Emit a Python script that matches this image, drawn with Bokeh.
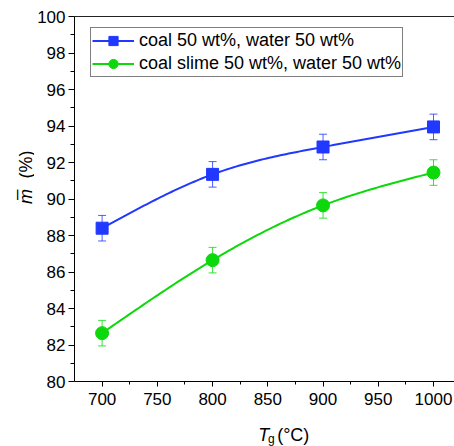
import numpy as np
from bokeh.plotting import figure
from bokeh.layouts import row, column
from bokeh.models import (Legend, LegendItem, LinearAxis, Whisker, TeeHead,
                          ColumnDataSource, FixedTicker, Range1d)
from bokeh.core.properties import value
from bokeh.embed import file_html
from bokeh.resources import INLINE

# ---- data ----
temps = [700, 800, 900, 1000]
coal = [88.4, 91.35, 92.85, 93.95]
coal_err = [0.7, 0.7, 0.7, 0.7]
slime = [82.65, 86.65, 89.65, 91.45]
slime_err = [0.7, 0.7, 0.7, 0.7]
x_ticks = [700, 750, 800, 850, 900, 950, 1000]
x_minor = [725, 775, 825, 875, 925, 975]
y_ticks = [80, 82, 84, 86, 88, 90, 92, 94, 96, 98, 100]
y_minor = [81, 83, 85, 87, 89, 91, 93, 95, 97, 99]
coal_label = "coal 50 wt%, water 50 wt%"
slime_label = "coal slime 50 wt%, water 50 wt%"

BLUE = "#2138ff"
GREEN = "#0cd80c"
FONT = "Liberation Sans"
W, H = 454, 446
LW = 34      # width of the strip holding the y-axis title
BH = 26      # height of the strip holding the x-axis title


def natural_spline(xs, ys, n=120):
    xs = np.asarray(xs, float)
    ys = np.asarray(ys, float)
    k = len(xs)
    h = np.diff(xs)
    A = np.zeros((k, k))
    r = np.zeros(k)
    A[0, 0] = A[-1, -1] = 1
    for i in range(1, k - 1):
        A[i, i - 1] = h[i - 1]
        A[i, i] = 2 * (h[i - 1] + h[i])
        A[i, i + 1] = h[i]
        r[i] = 6 * ((ys[i + 1] - ys[i]) / h[i] - (ys[i] - ys[i - 1]) / h[i - 1])
    M = np.linalg.solve(A, r)
    xx = np.linspace(xs[0], xs[-1], n)
    yy = np.empty_like(xx)
    for j, x in enumerate(xx):
        i = min(np.searchsorted(xs, x, side="right") - 1, k - 2)
        t1 = xs[i + 1] - x
        t0 = x - xs[i]
        yy[j] = (M[i] * t1 ** 3 / (6 * h[i]) + M[i + 1] * t0 ** 3 / (6 * h[i])
                 + (ys[i] / h[i] - M[i] * h[i] / 6) * t1
                 + (ys[i + 1] / h[i] - M[i + 1] * h[i] / 6) * t0)
    return xx, yy


def blank(width, height, xr, yr):
    f = figure(width=width, height=height, x_range=xr, y_range=yr,
               output_backend="svg", toolbar_location=None,
               min_border=0, x_axis_type=None, y_axis_type=None)
    f.outline_line_color = None
    f.xgrid.visible = False
    f.ygrid.visible = False
    f.border_fill_color = "white"
    f.background_fill_color = "white"
    return f


# ---- main plot ----
p = figure(width=W - LW, height=H - BH, x_range=Range1d(675, 1019), y_range=Range1d(80, 100),
           output_backend="svg", toolbar_location=None,
           min_border_left=72 - LW, min_border_right=0, min_border_top=16,
           min_border_bottom=(H - BH) - 381)
p.outline_line_color = None
p.xgrid.visible = False
p.ygrid.visible = False
p.background_fill_color = "white"
p.border_fill_color = "white"

for ax in (p.xaxis[0], p.yaxis[0]):
    ax.axis_line_color = "black"
    ax.major_tick_line_color = "black"
    ax.minor_tick_line_color = "black"
    ax.major_tick_in = 0
    ax.minor_tick_in = 0
    ax.major_label_text_font = FONT
    ax.major_label_text_font_size = "17px"
    ax.major_label_text_color = "black"

p.xaxis.ticker = FixedTicker(ticks=x_ticks, minor_ticks=x_minor)
p.yaxis.ticker = FixedTicker(ticks=y_ticks, minor_ticks=y_minor)
p.xaxis.major_tick_out = 5
p.xaxis.minor_tick_out = 3
p.yaxis.major_tick_out = 6
p.yaxis.minor_tick_out = 4
p.yaxis.major_label_standoff = 3
p.xaxis.major_label_standoff = 6

top = LinearAxis(ticker=FixedTicker(ticks=[]), major_label_text_font_size="0px",
                 major_tick_line_color=None, minor_tick_line_color=None,
                 axis_line_color="#222222")
p.add_layout(top, "above")

# error bars
for vals, errs, col in ((coal, coal_err, BLUE), (slime, slime_err, GREEN)):
    src = ColumnDataSource(dict(x=temps,
                                upper=[v + e for v, e in zip(vals, errs)],
                                lower=[v - e for v, e in zip(vals, errs)]))
    w = Whisker(source=src, base="x", upper="upper", lower="lower",
                line_color=col, line_width=1, line_alpha=0.8, level="underlay",
                upper_head=TeeHead(size=8, line_color=col, line_alpha=0.8, line_width=1),
                lower_head=TeeHead(size=8, line_color=col, line_alpha=0.8, line_width=1))
    p.add_layout(w)

bx_, by_ = natural_spline(temps, coal)
gx_, gy_ = natural_spline(temps, slime)
l1 = p.line(bx_, by_, line_color=BLUE, line_width=2)
m1 = p.scatter(temps, coal, marker="square", size=12, fill_color=BLUE, line_color=BLUE)
l2 = p.line(gx_, gy_, line_color=GREEN, line_width=2)
m2 = p.scatter(temps, slime, marker="circle", size=13, fill_color=GREEN, line_color=GREEN)

legend = Legend(items=[LegendItem(label=coal_label, renderers=[l1, m1]),
                       LegendItem(label=slime_label, renderers=[l2, m2])],
                location=(16, 304), border_line_color="black", border_line_width=1,
                background_fill_color="white", background_fill_alpha=1,
                padding=1, spacing=0, margin=0, glyph_width=42, glyph_height=23,
                label_height=23, label_standoff=5, label_text_font=FONT,
                label_text_font_size="18px", label_text_color="black")
p.add_layout(legend)

# ---- y-axis title strip (coordinates = canvas pixels, y up from bottom) ----
ly = blank(LW, H, Range1d(0, LW), Range1d(0, H))
ly.text(x=[25], y=[H - 196], text=["m\u0305"], angle=np.pi / 2,
        text_font=value(FONT), text_font_style="italic", text_font_size="18px",
        text_align="center", text_baseline="middle", text_color="black")
ly.text(x=[25], y=[H - 164], text=["(%)"], angle=np.pi / 2,
        text_font=value(FONT), text_font_size="18px",
        text_align="center", text_baseline="middle", text_color="black")

# ---- x-axis title strip ----
bxs = blank(W - LW, BH, Range1d(LW, W), Range1d(0, BH))
bxs.text(x=[237], y=[H - 434], text=["T"], text_font=value(FONT),
         text_font_style="italic", text_font_size="18px",
         text_align="left", text_baseline="alphabetic", text_color="black")
bxs.text(x=[248], y=[H - 438], text=["g"], text_font=value(FONT),
         text_font_size="12px", text_align="left", text_baseline="alphabetic",
         text_color="black")
bxs.text(x=[258], y=[H - 434], text=["(°C)"], text_font=value(FONT),
         text_font_size="18px", text_align="left", text_baseline="alphabetic",
         text_color="black")

layout = row(ly, column(p, bxs, spacing=0), spacing=0)
open("out.html", "w").write(file_html(layout, INLINE))
